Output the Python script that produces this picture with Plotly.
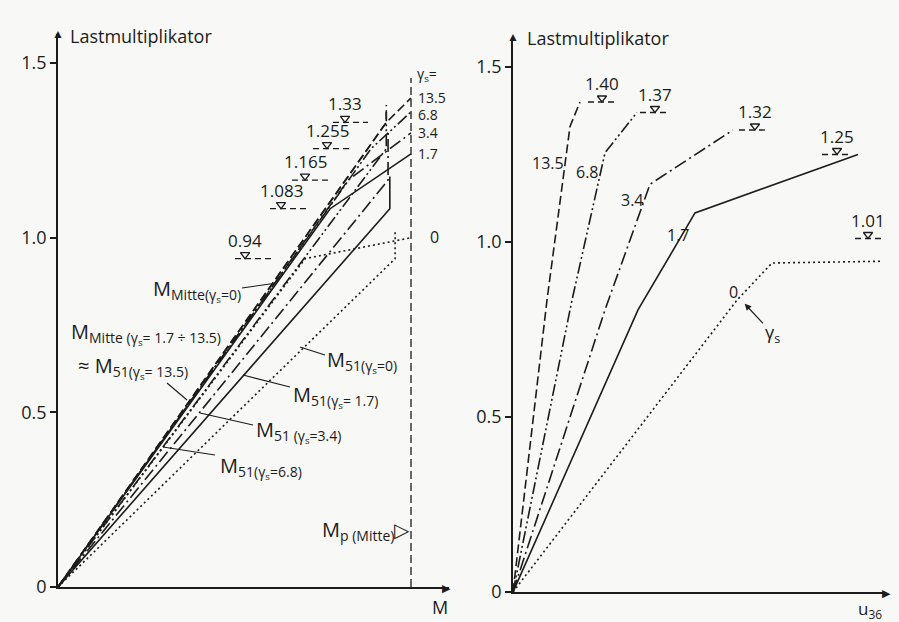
import plotly.graph_objects as go

W, H = 899, 622

# ---------------- data ----------------
gamma_s = ["13.5", "6.8", "3.4", "1.7", "0"]
first_hinge_load = [1.33, 1.255, 1.165, 1.083, 0.94]     # level markers, left panel
first_hinge_text = ["1.33", "1.255", "1.165", "1.083", "0.94"]
collapse_load = [1.40, 1.37, 1.32, 1.25, 1.01]          # level markers, right panel
collapse_text = ["1.40", "1.37", "1.32", "1.25", "1.01"]

# left panel: load multiplier vs moment M (in units of Mp(Mitte))
mp_mitte = 1.0
mp_line_top = 1.457
mitte_hinge_M = [0.93, 0.887, 0.822, 0.771, 0.70]
mitte_end_load = [1.40, 1.36, 1.30, 1.24, 1.00]
m51_hinge_M = [0.93, 0.93, 0.935, 0.94, 0.955]
m51_top_load = [1.38, 1.36, 1.30, 1.175, 1.02]

# right panel: load multiplier vs displacement u36
u_mid = [0.34, 0.59, 0.92, 1.25, 2.24]
load_mid = [0.834, 0.834, 0.806, 0.806, 0.834]
u_hinge = [0.57, 0.92, 1.37, 1.82, 2.59]
u_end = [0.67, 1.24, 2.20, 3.45, 3.70]
load_end = [1.40, 1.37, 1.32, 1.25, 0.945]

y_ticks = [0, 0.5, 1.0, 1.5]
y_tick_text = ["0", "0.5", "1.0", "1.5"]

# ---------------- styles ----------------
INK = "#1c1c1c"
FONT = "Open Sans"
dashes = ["9px,4px", "12px,3px,2px,3px,2px,3px", "13px,4px,2px,4px", "solid", "2px,3px"]
LW = 1.6

# pixel helpers for label / decoration placement only
def LX(px): return (px - 58) / 353.0
def LY(py): return (587 - py) / 349.3
def RX(px): return (px - 513) / 100.0
def RY(py): return (592 - py) / 350.0
def PX(px): return px / W
def PY(py): return 1 - py / H

fig = go.Figure()
annotations = []
shapes = []

def line(x, y, xa, ya, dash="solid", width=LW):
    fig.add_trace(go.Scatter(x=x, y=y, xaxis=xa, yaxis=ya, mode="lines",
                             line=dict(color=INK, width=width, dash=dash),
                             cliponaxis=False, hoverinfo="skip", showlegend=False))

# ---- left panel curves ----
for i in range(len(gamma_s)):
    line([0, mitte_hinge_M[i], mp_mitte], [0, first_hinge_load[i], mitte_end_load[i]],
         "x", "y", dashes[i])
    line([0, m51_hinge_M[i], m51_hinge_M[i]], [0, first_hinge_load[i], m51_top_load[i]],
         "x", "y", dashes[i])
line([mp_mitte, mp_mitte], [0, mp_line_top], "x", "y", "8px,4px", 1.3)

# ---- right panel curves ----
for i in range(len(gamma_s)):
    line([0, u_mid[i], u_hinge[i], u_end[i]], [0, load_mid[i], first_hinge_load[i], load_end[i]],
         "x2", "y2", dashes[i])

# ---- level markers ----
left_tri_px = [345, 327, 305, 281, 245]
left_span_px = [(333, 368), (313, 350), (292, 328), (270, 307), (235, 273)]
right_tri_px = [602, 655, 755, 837, 868]
right_span_px = [(588, 617), (640, 668), (739, 767), (822, 850), (855, 882)]

def level_marker(level, label, tri_x, span, xa, ya, yscale):
    line([span[0], span[1]], [level, level], xa, ya, "6px,4px", 1.3)
    fig.add_trace(go.Scatter(x=[tri_x], y=[level + 4.0 / yscale], xaxis=xa, yaxis=ya,
                             mode="markers", cliponaxis=False,
                             marker=dict(symbol="triangle-down-open", size=8, color=INK,
                                         line=dict(color=INK, width=1.3)),
                             hoverinfo="skip", showlegend=False))
    annotations.append(dict(text=label, x=tri_x, y=level, xref=xa, yref=ya,
                            xanchor="center", yanchor="bottom", yshift=5, showarrow=False,
                            font=dict(size=17, color=INK, family=FONT)))

for i in range(len(gamma_s)):
    level_marker(first_hinge_load[i], first_hinge_text[i], LX(left_tri_px[i]),
                 (LX(left_span_px[i][0]), LX(left_span_px[i][1])), "x", "y", 349.3)
    level_marker(collapse_load[i], collapse_text[i], RX(right_tri_px[i]),
                 (RX(right_span_px[i][0]), RX(right_span_px[i][1])), "x2", "y2", 350.0)

def text(t, x, y, xa, ya, size=17, xanchor="left", yanchor="middle"):
    annotations.append(dict(text=t, x=x, y=y, xref=xa, yref=ya, xanchor=xanchor,
                            yanchor=yanchor, showarrow=False,
                            font=dict(size=size, color=INK, family=FONT)))

# axis titles and arrow heads (paper coordinates)
text("Lastmultiplikator", PX(68), PY(36), "paper", "paper", 18)
text("Lastmultiplikator", PX(525), PY(38), "paper", "paper", 18)
text("M", PX(440), PY(607), "paper", "paper", 18, "center")
text("u<sub>36</sub>", PX(856), PY(609), "paper", "paper", 17)
text("▲", PX(58), PY(33), "paper", "paper", 12, "center")
text("▶", PX(446), PY(587), "paper", "paper", 11, "center")
text("▲", PX(513), PY(37), "paper", "paper", 12, "center")
text("▶", PX(886), PY(592), "paper", "paper", 11, "center")

# left: gamma labels at Mp line
text("γ<sub>s</sub>=", LX(415), LY(74), "x", "y", 14)
left_end_label_py = [97, 114, 132, 153]
for i in range(4):
    text(gamma_s[i], LX(416), LY(left_end_label_py[i]), "x", "y", 14)
text(gamma_s[4], LX(428), LY(237), "x", "y", 16)

# left: curve names
MS = 20
text("M<sub>Mitte(γ<sub>s</sub>=0)</sub>", LX(243), LY(290), "x", "y", MS, "right")
text("M<sub>Mitte (γ<sub>s</sub>= 1.7 ÷ 13.5)</sub>", LX(69), LY(333), "x", "y", MS)
text("≈ M<sub>51(γ<sub>s</sub>= 13.5)</sub>", LX(76), LY(367), "x", "y", MS)
text("M<sub>51(γ<sub>s</sub>=0)</sub>", LX(325), LY(361), "x", "y", MS)
text("M<sub>51(γ<sub>s</sub>= 1.7)</sub>", LX(291), LY(396), "x", "y", MS)
text("M<sub>51 (γ<sub>s</sub>=3.4)</sub>", LX(254), LY(431), "x", "y", MS)
text("M<sub>51(γ<sub>s</sub>=6.8)</sub>", LX(218), LY(467), "x", "y", MS)
text("M<sub>p (Mitte)</sub>▷", LX(412), LY(530), "x", "y", MS, "right")

# right: curve labels
right_label_px = [(548, 163), (587, 172), (632, 200), (678, 235), (733, 292)]
for i in range(5):
    text(gamma_s[i], RX(right_label_px[i][0]), RY(right_label_px[i][1]), "x2", "y2", 16, "center")

# gamma_s arrow in right panel
annotations.append(dict(text="γ<sub>s</sub>", x=RX(744), y=RY(303), xref="x2", yref="y2",
                        ax=28, ay=30, showarrow=True, arrowhead=2, arrowsize=1.1,
                        arrowwidth=1.2, arrowcolor=INK, standoff=1,
                        font=dict(size=18, color=INK, family=FONT)))

# leader lines (label pointers)
leaders = [((242, 288), (277, 283)), ((167, 383), (187, 400)), ((325, 355), (300, 347)),
           ((290, 387), (243, 375)), ((253, 425), (200, 413)), ((215, 455), (163, 447))]
for (a, b) in leaders:
    shapes.append(dict(type="line", xref="x", yref="y", x0=LX(a[0]), y0=LY(a[1]),
                       x1=LX(b[0]), y1=LY(b[1]), line=dict(color=INK, width=1.1)))

tick_style = dict(tickvals=y_ticks, ticktext=y_tick_text, ticks="outside", ticklen=6,
                  tickwidth=1.5, tickcolor=INK, tickfont=dict(size=18, family=FONT, color=INK))
axline = dict(showline=True, linecolor=INK, linewidth=1.6, showgrid=False, zeroline=False,
              automargin=False)
bare = dict(showticklabels=False, ticks="", fixedrange=True)
frame = dict(showline=True, linecolor=INK, linewidth=1.5, showgrid=False, zeroline=False,
             automargin=False, range=[0, 1])

fig.update_layout(
    template="none",
    width=W, height=H, margin=dict(l=0, r=0, t=0, b=0, pad=0, autoexpand=False),
    paper_bgcolor="#f8f8f6", plot_bgcolor="rgba(0,0,0,0)",
    font=dict(family=FONT, color=INK),
    showlegend=False,
    # left panel
    xaxis=dict(domain=[PX(58), PX(449)], range=[0, LX(449)], anchor="y", **axline, **bare),
    yaxis=dict(domain=[PY(587), PY(34)], range=[0, LY(34)], anchor="x", **axline, **tick_style),
    # right panel
    xaxis2=dict(domain=[PX(513), PX(884)], range=[0, RX(884)], anchor="y2", **axline, **bare),
    yaxis2=dict(domain=[PY(592), PY(38)], range=[0, RY(38)], anchor="x2", **axline, **tick_style),
    # frame (top and left border)
    xaxis3=dict(domain=[PX(7), 1], anchor="y3", side="top", **frame, **bare),
    yaxis3=dict(domain=[0, PY(10)], anchor="x3", **frame, **bare),
    annotations=annotations, shapes=shapes,
)

fig.write_html("out.html", config={"displayModeBar": False},
               post_script="document.body.style.margin='0';")
